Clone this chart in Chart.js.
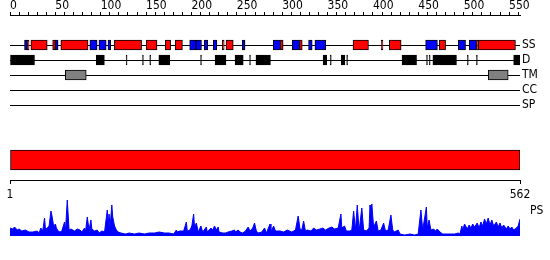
<!DOCTYPE html>
<html><head><meta charset="utf-8">
<script src="https://cdn.jsdelivr.net/npm/chart.js"></script>
<style>
html,body{margin:0;padding:0;background:#fff;width:550px;height:260px;overflow:hidden;}
canvas{position:absolute;left:0;}
#c1{top:0}
#c2{top:185px}
</style></head><body>
<canvas id="c1" width="550" height="205"></canvas>
<canvas id="c2" width="550" height="75"></canvas>
<script>
const seqLength = 562;
const trackLabels = ['SS', 'D', 'TM', 'CC', 'SP'];
const topAxisLabels = [0, 50, 100, 150, 200, 250, 300, 350, 400, 450, 500, 550];
const topMinorStep = 10;
const bottomAxisLabels = [1, 562];
const psLabel = 'PS';

// Secondary structure: helices (red) and strands (blue), residue ranges
const helixStart = [19, 23, 47, 56, 115, 150, 171, 182, 234, 238, 298, 319, 378, 409, 418, 473, 514, 516];
const helixEnd   = [21, 41, 50, 86, 145, 162, 177, 190, 236, 246, 301, 322, 395, 411, 431, 480, 516, 557];
const strandStart = [16, 50, 88, 98, 108, 198, 205, 214, 224, 256, 290, 311, 329, 336, 458, 494, 506];
const strandEnd   = [19, 53, 96, 106, 111, 205, 211, 218, 228, 259, 298, 319, 333, 348, 471, 502, 514];

// Disorder (D) segments
const domStart = [0, 95, 128, 146, 154, 164, 210, 226, 248, 264, 271, 345, 353, 365, 371, 432, 459, 462, 466, 504, 514, 555];
const domEnd   = [27, 104, 129, 147, 155, 176, 211, 238, 257, 265, 287, 349, 354, 369, 372, 448, 460, 463, 492, 505, 515, 562];

// Transmembrane segments
const tmStart = [61, 527];
const tmEnd   = [84, 549];

// PS profile
const psPos = [
  1,4,6,9,11,14,18,22,26,31,
  33,35,37,39,40,42,44,46,47,49,
  51,52,54,56,58,61,62,64,66,68,
  72,75,78,80,83,84,86,88,90,91,
  94,97,99,102,105,108,109,110,111,113,
  114,116,118,120,123,128,132,138,143,149,
  154,160,165,171,176,181,184,185,188,192,
  195,196,199,201,203,204,206,208,211,213,
  217,218,222,224,226,228,230,231,235,238,
  241,245,248,249,252,254,257,260,263,265,
  268,270,272,274,278,281,283,287,288,291,
  293,298,302,306,311,315,318,320,322,324,
  326,328,332,335,338,342,345,348,352,355,
  358,362,365,366,369,371,375,377,379,381,
  383,385,388,390,393,396,397,398,399,401,
  404,406,409,412,414,417,420,422,424,428,
  430,435,441,446,450,453,455,459,460,462,
  464,467,469,471,474,477,482,486,490,494,
  496,498,499,501,504,506,508,510,512,515,
  517,519,521,523,525,527,529,531,533,536,
  538,540,542,544,547,549,551,553,555,558,
  560,562];
const psVal = [
  8,7,9,6,7,5,6,4,4,5,
  3,8,5,18,7,8,10,25,21,10,
  12,8,5,4,5,14,5,36,6,7,
  5,7,6,4,8,4,19,6,16,7,
  5,6,3,5,4,26,12,22,8,31,
  19,10,6,4,3,2,3,2,3,2,
  3,3,4,3,3,2,6,4,5,5,
  14,5,6,10,22,9,13,4,10,4,
  9,4,8,6,10,6,9,4,3,3,
  4,5,6,4,6,4,3,5,9,5,
  8,13,5,3,4,8,3,12,4,10,
  5,5,4,6,4,6,20,7,6,15,
  5,6,5,8,6,7,8,6,8,9,
  7,8,22,8,10,5,5,6,25,6,
  31,5,28,6,5,8,31,20,32,9,
  15,5,6,13,5,6,21,6,4,6,
  2,1,2,1,2,26,6,29,8,16,
  6,7,5,7,4,2,2,2,2,3,
  2,10,6,12,7,11,8,12,9,13,
  8,14,10,17,12,18,11,16,10,14,
  9,13,8,11,7,10,7,9,6,8,
  10,17];

const FONT = {family: '"DejaVu Sans Condensed","DejaVu Sans",sans-serif', size: 12, lineHeight: 1};
const BLACK = '#000000';

// track rows on the linear index axis
const ROW = {SS: 2, D: 3, TM: 4, CC: 5, SP: 6, PROTEIN: 9.667};

function segs(s, e, row) { return s.map((v, i) => ({x: [v, e[i]], y: row})); }
function barDs(data, color, thick) {
  return {data, backgroundColor: color, borderColor: BLACK, borderWidth: 1,
          borderSkipped: false, barThickness: thick, grouped: false};
}

const minorTicks = [];
for (let v = 0; v <= seqLength; v += topMinorStep) minorTicks.push(v);

new Chart(document.getElementById('c1'), {
  type: 'bar',
  data: {datasets: [
    barDs(segs(helixStart, helixEnd, ROW.SS), '#ff0000', 10),
    barDs(segs(strandStart, strandEnd, ROW.SS), '#0000ff', 10),
    barDs(segs(domStart, domEnd, ROW.D), '#000000', 10),
    barDs(segs(tmStart, tmEnd, ROW.TM), '#808080', 10),
    barDs([{x: [0, seqLength], y: ROW.PROTEIN}], '#ff0000', 20)
  ]},
  options: {
    indexAxis: 'y', responsive: false, animation: false, devicePixelRatio: 1,
    layout: {padding: {left: 10, right: 0, top: 0, bottom: 0}},
    plugins: {legend: {display: false}, tooltip: {enabled: false}},
    scales: {
      x: {type: 'linear', position: 'top', min: 0, max: seqLength,
        afterBuildTicks: s => { s.ticks = minorTicks.map(v => ({value: v})); },
        afterFit: s => { s.height = 15; },
        grid: {drawOnChartArea: false, drawTicks: true, tickLength: 3, color: BLACK, lineWidth: 1},
        border: {display: true, color: BLACK, width: 1},
        ticks: {autoSkip: false, maxRotation: 0, minRotation: 0, align: 'start', padding: 0,
          font: FONT, color: BLACK,
          callback: v => topAxisLabels.includes(v) ? String(v) : ''}
      },
      x2: {type: 'linear', position: 'bottom', min: 1, max: seqLength,
        afterBuildTicks: s => { s.ticks = bottomAxisLabels.map(v => ({value: v})); },
        afterFit: s => { s.height = 25; },
        grid: {drawOnChartArea: false, drawTicks: true, tickLength: 4, color: BLACK, lineWidth: 1},
        border: {display: true, color: BLACK, width: 1},
        ticks: {autoSkip: false, maxRotation: 0, minRotation: 0, padding: 5, font: FONT, color: BLACK,
          callback: v => String(v)}
      },
      y: {type: 'linear', position: 'right', reverse: true, min: 0, max: 11, offset: false,
        afterBuildTicks: s => { s.ticks = trackLabels.map(t => ({value: ROW[t]})); },
        afterFit: s => { s.width = 30; },
        grid: {drawTicks: false, color: BLACK, lineWidth: 1, offset: false},
        border: {display: false},
        ticks: {padding: 2, font: FONT, color: BLACK,
          callback: v => trackLabels.find(t => ROW[t] === v) || ''}
      }
    }
  }
});

new Chart(document.getElementById('c2'), {
  type: 'line',
  data: {datasets: [{
    data: psPos.map((p, i) => ({x: p, y: psVal[i]})),
    borderColor: '#0000ff', backgroundColor: '#0000ff', fill: 'origin',
    borderWidth: 1, pointRadius: 0, tension: 0
  }]},
  options: {
    responsive: false, animation: false, devicePixelRatio: 1,
    layout: {padding: {left: 10, right: 0, top: 11, bottom: 24}},
    plugins: {legend: {display: false}, tooltip: {enabled: false}},
    scales: {
      x: {type: 'linear', min: 1, max: seqLength, display: false},
      y: {type: 'linear', position: 'right', min: 0, max: 40,
        afterBuildTicks: s => { s.ticks = [{value: 25.5}]; },
        afterFit: s => { s.width = 30; },
        grid: {display: false}, border: {display: false},
        ticks: {padding: 2, font: FONT, color: BLACK, callback: () => psLabel}
      }
    }
  }
});
</script>
</body></html>
